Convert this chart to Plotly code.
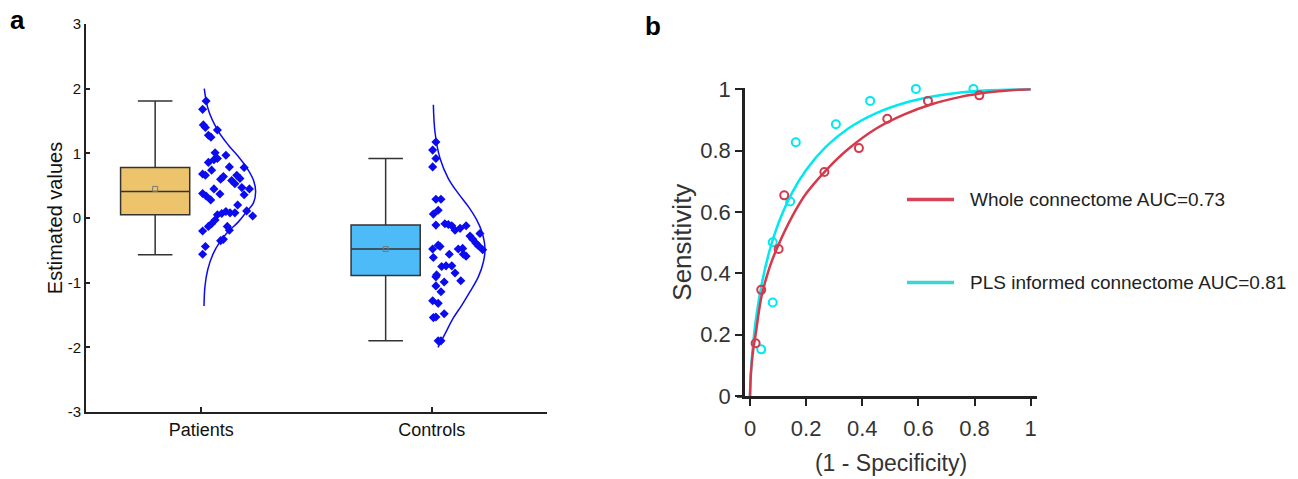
import plotly.graph_objects as go

# ---------------- Panel a data ----------------
categories = ["Patients", "Controls"]
cat_pos = [1, 2]

# box statistics
box_upper = [1.81, 0.92]
box_q3 = [0.78, -0.11]
box_median = [0.41, -0.48]
box_q1 = [0.05, -0.89]
box_lower = [-0.57, -1.90]
box_mean = [0.45, -0.48]
box_colors = ["#EDC46C", "#4DBBF7"]

# individual points (value, horizontal jitter from category position)
pat_values = [1.81, 1.68, 1.44, 1.40, 1.36, 1.28, 1.25, 1.01, 0.97, 0.86, 0.90, 0.92, 0.74, 0.79,
              0.68, 0.66, 0.78, 0.60, 0.64, 0.66, 0.61, 0.58, 0.53, 0.47, 0.45, 0.45, 0.37, 0.38,
              0.34, 0.28, 0.36, 0.20, 0.11, 0.03, 0.05, 0.07, 0.10, 0.08, 0.08, -0.03, -0.09,
              -0.13, -0.13, -0.19, -0.20, -0.35, -0.33, -0.44, -0.56]
pat_jitter = [0.021, 0.006, 0.009, 0.018, 0.070, 0.031, 0.042, 0.060, 0.107, 0.031, 0.055, 0.070,
              0.045, 0.122, 0.006, 0.018, 0.186, 0.084, 0.096, 0.154, 0.168, 0.132, 0.146, 0.176,
              0.209, 0.055, 0.081, 0.006, 0.021, 0.041, 0.186, 0.158, 0.197, 0.223, 0.070, 0.089,
              0.107, 0.125, 0.146, 0.060, 0.045, 0.031, 0.113, 0.122, 0.006, 0.084, 0.096, 0.018,
              0.006]
con_values = [1.175, 1.05, 0.92, 0.79, 0.29, 0.29, 0.12, 0.06, -0.11, -0.09, -0.10, -0.12, -0.19,
              -0.16, -0.12, -0.28, -0.33, -0.39, -0.43, -0.24, -0.49, -0.42, -0.44, -0.48, -0.48,
              -0.47, -0.56, -0.56, -0.59, -0.61, -0.75, -0.74, -0.74, -0.85, -0.88, -0.91, -0.97,
              -0.99, -1.05, -1.14, -1.28, -1.32, -1.54, -1.53, -1.48, -1.90, -1.90]
con_jitter = [0.018, 0.004, 0.018, 0.004, 0.018, 0.040, 0.028, 0.007, 0.018, 0.057, 0.072, 0.087,
              0.101, 0.123, 0.149, 0.166, 0.178, 0.192, 0.202, 0.209, 0.221, 0.028, 0.036, 0.004,
              0.115, 0.134, 0.076, 0.137, 0.149, 0.007, 0.043, 0.062, 0.087, 0.101, 0.021, 0.018,
              0.126, 0.054, 0.018, 0.040, 0.004, 0.028, 0.007, 0.018, 0.054, 0.028, 0.040]

# fitted density outlines (value, width from category position)
pat_curve_y = [2.00, 1.67, 1.36, 1.13, 0.95, 0.78, 0.59, 0.41, 0.23, 0.10, -0.06, -0.21, -0.37,
               -0.55, -0.80, -1.06, -1.36]
pat_curve_w = [0.013, 0.031, 0.071, 0.117, 0.161, 0.197, 0.226, 0.236, 0.226, 0.197, 0.161, 0.117,
               0.081, 0.052, 0.028, 0.016, 0.012]
con_curve_y = [1.75, 1.33, 0.92, 0.61, 0.38, 0.175, -0.03, -0.21, -0.47, -0.68, -0.91, -1.14,
               -1.35, -1.55, -1.76, -2.00]
con_curve_w = [0.007, 0.014, 0.036, 0.072, 0.115, 0.159, 0.195, 0.217, 0.231, 0.224, 0.202, 0.166,
               0.130, 0.093, 0.062, 0.027]

a_yticks = [-3, -2, -1, 0, 1, 2, 3]
a_yticktext = ["-3", "-2", "-1", "0", "1", "2", "3"]

# ---------------- Panel b data ----------------
whole_pts_x = [0.020, 0.040, 0.102, 0.122, 0.265, 0.388, 0.489, 0.634, 0.817]
whole_pts_y = [0.172, 0.346, 0.479, 0.654, 0.730, 0.808, 0.904, 0.962, 0.980]
pls_pts_x = [0.040, 0.081, 0.081, 0.143, 0.163, 0.306, 0.428, 0.591, 0.796]
pls_pts_y = [0.152, 0.305, 0.501, 0.634, 0.827, 0.886, 0.962, 1.001, 1.001]

roc_x = [0, 0.003, 0.01, 0.02, 0.04, 0.07, 0.10, 0.15, 0.20, 0.27, 0.35, 0.45, 0.55, 0.65,
         0.75, 0.85, 0.93, 1.0]
whole_roc_y = [0, 0.07, 0.14, 0.20, 0.32, 0.42, 0.49, 0.585, 0.66, 0.735, 0.805, 0.872, 0.918,
               0.952, 0.975, 0.990, 0.997, 1.0]
pls_roc_y = [0, 0.071, 0.159, 0.242, 0.357, 0.475, 0.56, 0.663, 0.737, 0.812, 0.872, 0.922,
             0.955, 0.976, 0.989, 0.9965, 0.999, 1.0]

b_ticks = [0, 0.2, 0.4, 0.6, 0.8, 1]
b_ticktext = ["0", "0.2", "0.4", "0.6", "0.8", "1"]

legend_labels = ["Whole connectome AUC=0.73", "PLS informed connectome AUC=0.81"]
red = "#D43A4C"
cyan = "#00E8F0"
legend_colors = ["#D9435A", "#3CD6D2"]
blue = "#0B0BF0"

FONT = "Liberation Sans, Arial, sans-serif"

fig = go.Figure()

# ---- panel a ----
for i, cat in enumerate(categories):
    bx = cat_pos[i] - 0.2
    fig.add_trace(go.Box(
        x=[bx], q1=[box_q1[i]], median=[box_median[i]], q3=[box_q3[i]],
        lowerfence=[box_lower[i]], upperfence=[box_upper[i]],
        width=0.3, whiskerwidth=0.5, fillcolor=box_colors[i],
        line=dict(color="#333333", width=1.5), boxpoints=False,
        showlegend=False, xaxis="x", yaxis="y", hoverinfo="skip"))
    fig.add_trace(go.Scatter(
        x=[bx], y=[box_mean[i]], mode="markers",
        marker=dict(symbol="square-open", size=5, color="#777777", line=dict(width=1)),
        showlegend=False, xaxis="x", yaxis="y"))

for pos, vals, jit in [(1, pat_values, pat_jitter), (2, con_values, con_jitter)]:
    fig.add_trace(go.Scatter(
        x=[pos + j for j in jit], y=vals, mode="markers",
        marker=dict(symbol="diamond", size=7, color=blue),
        showlegend=False, xaxis="x", yaxis="y"))

for pos, cy, cw in [(1, pat_curve_y, pat_curve_w), (2, con_curve_y, con_curve_w)]:
    fig.add_trace(go.Scatter(
        x=[pos + w for w in cw], y=cy, mode="lines",
        line=dict(color=blue, width=1.5, shape="spline", smoothing=1.0),
        showlegend=False, xaxis="x", yaxis="y"))

# ---- panel b ----
fig.add_trace(go.Scatter(x=roc_x, y=pls_roc_y, mode="lines",
                         line=dict(color=cyan, width=2.5, shape="spline", smoothing=0.8),
                         showlegend=False, xaxis="x2", yaxis="y2"))
fig.add_trace(go.Scatter(x=roc_x, y=whole_roc_y, mode="lines",
                         line=dict(color=red, width=2.5, shape="spline", smoothing=0.8),
                         showlegend=False, xaxis="x2", yaxis="y2"))
fig.add_trace(go.Scatter(x=pls_pts_x, y=pls_pts_y, mode="markers", cliponaxis=False,
                         marker=dict(symbol="circle-open", size=8, color=cyan, line=dict(width=2)),
                         showlegend=False, xaxis="x2", yaxis="y2"))
fig.add_trace(go.Scatter(x=whole_pts_x, y=whole_pts_y, mode="markers", cliponaxis=False,
                         marker=dict(symbol="circle-open", size=8, color=red, line=dict(width=2)),
                         showlegend=False, xaxis="x2", yaxis="y2"))

W, H = 1298, 479
def px(v):
    return v / W
def py(v):
    return 1 - v / H

shapes = []
annotations = []
# manual legend
for k, (lab, col, yy) in enumerate(zip(legend_labels, legend_colors, [199.5, 282.5])):
    shapes.append(dict(type="line", xref="paper", yref="paper", x0=px(907), x1=px(954),
                       y0=py(yy), y1=py(yy), line=dict(color=col, width=3.5)))
    annotations.append(dict(text=lab, xref="paper", yref="paper", x=px(968), y=py(yy),
                            xanchor="left", yanchor="middle", showarrow=False,
                            font=dict(size=19, color="#222222", family=FONT)))
# x-axis line extension of panel b under the y ticks
shapes.append(dict(type="line", xref="paper", yref="paper", x0=px(737), x1=px(745),
                   y0=py(396.5), y1=py(396.5), line=dict(color="#222222", width=2.5)))
# panel letters
annotations.append(dict(text="<b>a</b>", xref="paper", yref="paper", x=px(17), y=py(20),
                        xanchor="center", yanchor="middle", showarrow=False,
                        font=dict(size=26, color="black", family=FONT)))
annotations.append(dict(text="<b>b</b>", xref="paper", yref="paper", x=px(653), y=py(26),
                        xanchor="center", yanchor="middle", showarrow=False,
                        font=dict(size=26, color="black", family=FONT)))

fig.update_layout(
    template="none",
    width=W, height=H, margin=dict(l=0, r=0, t=0, b=0, pad=0), autosize=False,
    paper_bgcolor="white", plot_bgcolor="white",
    font=dict(family=FONT, color="#222222"),
    shapes=shapes, annotations=annotations, showlegend=False,
    xaxis=dict(domain=[px(86), px(547)], range=[0.5, 2.5], tickmode="array",
               tickvals=cat_pos, ticktext=categories, ticks="inside", ticklen=5, tickwidth=1.5,
               tickcolor="#222222", showline=True, linecolor="#222222", linewidth=2,
               showgrid=False, zeroline=False, tickfont=dict(size=18, color="#111111"),
               automargin=False, anchor="y"),
    yaxis=dict(domain=[py(412), py(24)], range=[-3, 3], tickmode="array",
               tickvals=a_yticks, ticktext=a_yticktext, ticks="inside", ticklen=4, tickwidth=1.5,
               tickcolor="#222222", showline=True, linecolor="#222222", linewidth=2,
               showgrid=False, zeroline=False, tickfont=dict(size=15, color="#111111"),
               title=dict(text="Estimated values", font=dict(size=20, color="#111111"), standoff=0),
               automargin=False, anchor="x"),
    xaxis2=dict(domain=[px(745), px(1037)], range=[-0.0178, 1.0224], tickmode="array",
                tickvals=b_ticks, ticktext=b_ticktext,
                ticks="outside", ticklen=7, tickwidth=2, tickcolor="#222222",
                showline=True, linecolor="#222222", linewidth=2.5, showgrid=False, zeroline=False,
                tickfont=dict(size=22, color="#333333"), ticklabelstandoff=4,
                title=dict(text="(1 - Specificity)", font=dict(size=23, color="#333333"), standoff=15),
                automargin=False, anchor="y2"),
    yaxis2=dict(domain=[py(396), py(88.3)], range=[0, 1.003], tickmode="array",
                tickvals=b_ticks, ticktext=b_ticktext,
                ticks="outside", ticklen=7, tickwidth=2, tickcolor="#222222",
                showline=True, linecolor="#222222", linewidth=2.5, showgrid=False, zeroline=False,
                tickfont=dict(size=22, color="#333333"),
                title=dict(text="Sensitivity", font=dict(size=26, color="#333333"), standoff=2),
                automargin=False, anchor="x2"),
)

fig.write_html("out.html", config={"displayModeBar": False},
               post_script="document.body.style.margin='0';")
